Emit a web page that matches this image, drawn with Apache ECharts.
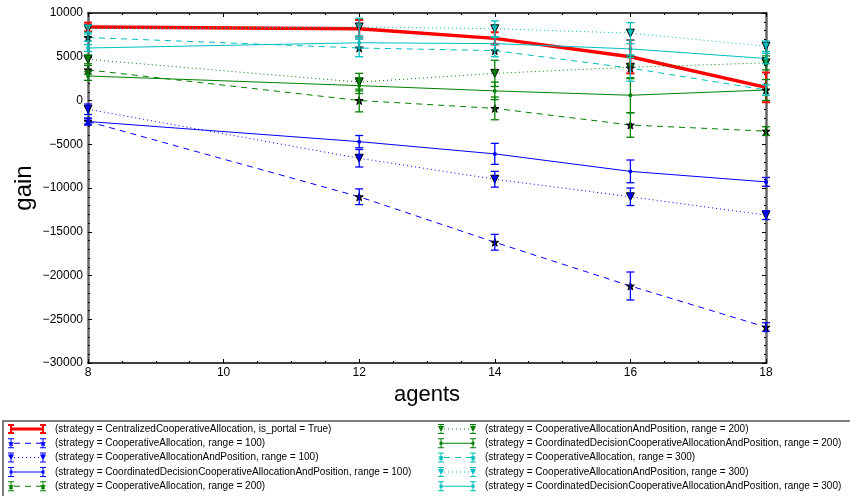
<!DOCTYPE html>
<html>
<head>
<meta charset="utf-8">
<script src="https://cdn.jsdelivr.net/npm/echarts@6/dist/echarts.min.js"></script>
<style>
  html, body { margin: 0; padding: 0; background: #fff; }
  #chart { width: 850px; height: 496px; }
</style>
</head>
<body>
<div id="chart"></div>
<script>
// agents on x axis
var agents = [8, 12, 14, 16, 18];

var names = [
    '(strategy = CentralizedCooperativeAllocation, is_portal = True)',
    '(strategy = CooperativeAllocation, range = 100)',
    '(strategy = CooperativeAllocationAndPosition, range = 100)',
    '(strategy = CoordinatedDecisionCooperativeAllocationAndPosition, range = 100)',
    '(strategy = CooperativeAllocation, range = 200)',
    '(strategy = CooperativeAllocationAndPosition, range = 200)',
    '(strategy = CoordinatedDecisionCooperativeAllocationAndPosition, range = 200)',
    '(strategy = CooperativeAllocation, range = 300)',
    '(strategy = CooperativeAllocationAndPosition, range = 300)',
    '(strategy = CoordinatedDecisionCooperativeAllocationAndPosition, range = 300)'
];

// mean gain per series
var centralized = [8400, 8200, 7100, 5000, 1500];
var coop100 = [-2400, -11000, -16200, -21200, -25900];
var coopPos100 = [-1000, -6600, -9000, -11000, -13100];
var coord100 = [-2400, -4700, -6100, -8100, -9300];
var coop200 = [3500, 0, -900, -2800, -3500];
var coopPos200 = [4700, 2100, 3100, 3800, 4300];
var coord200 = [2800, 1700, 1100, 600, 1200];
var coop300 = [7200, 6000, 5700, 3700, 1200];
var coopPos300 = [8200, 8400, 8200, 7700, 6200];
var coord300 = [6000, 6600, 6500, 5900, 4800];

// half-width of error bars
var errCentralized = [500, 1000, 700, 1900, 1700];
var errCoop100 = [300, 900, 900, 1600, 500];
var errCoopPos100 = [600, 1000, 900, 1000, 500];
var errCoord100 = [400, 700, 1200, 1300, 500];
var errCoop200 = [500, 1300, 1300, 1400, 500];
var errCoopPos200 = [500, 1000, 1500, 1300, 800];
var errCoord200 = [500, 900, 1000, 2000, 1200];
var errCoop300 = [400, 1000, 700, 1500, 600];
var errCoopPos300 = [400, 1000, 900, 1200, 600];
var errCoord300 = [400, 600, 700, 1000, 600];

var starPath = 'path://M50,0 L61,35 L98,35 L68,57 L79,91 L50,70 L21,91 L32,57 L2,35 L39,35 Z';

var RED = '#ff0000', BLUE = '#0000ff', GREEN = '#008000', CYAN = '#00bfbf';

var defs = [
    {vals: centralized, err: errCentralized, color: RED, type: 'solid', width: 3.5, symbol: 'none'},
    {vals: coop100, err: errCoop100, color: BLUE, type: [6, 5], width: 1, symbol: 'star'},
    {vals: coopPos100, err: errCoopPos100, color: BLUE, type: [1, 3], width: 1, symbol: 'tri'},
    {vals: coord100, err: errCoord100, color: BLUE, type: 'solid', width: 1, symbol: 'dot'},
    {vals: coop200, err: errCoop200, color: GREEN, type: [6, 5], width: 1, symbol: 'star'},
    {vals: coopPos200, err: errCoopPos200, color: GREEN, type: [1, 3], width: 1, symbol: 'tri'},
    {vals: coord200, err: errCoord200, color: GREEN, type: 'solid', width: 1, symbol: 'dot'},
    {vals: coop300, err: errCoop300, color: CYAN, type: [6, 5], width: 1, symbol: 'star'},
    {vals: coopPos300, err: errCoopPos300, color: CYAN, type: [1, 3], width: 1, symbol: 'tri'},
    {vals: coord300, err: errCoord300, color: CYAN, type: 'solid', width: 1, symbol: 'dot'}
];

// legend icon: error-bar caps at both ends, line pattern between, marker on caps
function rect(x, y, w, h) {
    return 'M' + x + ',' + y + 'h' + w + 'v' + h + 'h' + (-w) + 'Z';
}
function marker(kind, cx, cy) {
    if (kind === 'tri') return 'M' + (cx - 3) + ',' + (cy - 3) + 'L' + (cx + 3) + ',' + (cy - 3) + 'L' + cx + ',' + (cy + 3) + 'Z';
    if (kind === 'dot') return rect(cx - 1.5, cy - 1.5, 3, 3);
    if (kind === 'star') return 'M' + cx + ',' + (cy - 3) + 'L' + (cx + 1) + ',' + (cy - 1) + 'L' + (cx + 3) + ',' + (cy - 1) +
        'L' + (cx + 1.5) + ',' + (cy + 0.7) + 'L' + (cx + 2) + ',' + (cy + 3) + 'L' + cx + ',' + (cy + 1.6) +
        'L' + (cx - 2) + ',' + (cy + 3) + 'L' + (cx - 1.5) + ',' + (cy + 0.7) + 'L' + (cx - 3) + ',' + (cy - 1) +
        'L' + (cx - 1) + ',' + (cy - 1) + 'Z';
    return '';
}
function legendIcon(d) {
    var t = d.width > 1 ? 2 : 1;
    var lw = d.width > 1 ? 3 : 1;
    var p = '';
    [3, 35].forEach(function (cx) {
        p += rect(cx - t / 2, 0, t, 10);
        p += rect(cx - 3, 0, 6, t);
        p += rect(cx - 3, 10 - t, 6, t);
        p += marker(d.symbol, cx, 5);
    });
    var y = 5 - lw / 2;
    if (d.type === 'solid') {
        p += rect(3, y, 32, lw);
    } else {
        var seg = d.type[0], gap = d.type[1];
        for (var x = 6; x < 33; x += seg + gap) p += rect(x, y, Math.min(seg, 33 - x), lw);
    }
    return 'path://' + p;
}

var chart = echarts.init(document.getElementById('chart'));

var series = [];
defs.forEach(function (d, i) {
    var sym = 'none', size = 0, rot = 0, fill = d.color;
    if (d.symbol === 'star') { sym = starPath; size = 8; fill = '#111'; }
    if (d.symbol === 'tri') { sym = 'triangle'; size = 8; rot = 180; }
    if (d.symbol === 'dot') { sym = 'circle'; size = 4; }
    series.push({
        name: names[i],
        type: 'line',
        data: agents.map(function (a, k) { return [a, d.vals[k]]; }),
        symbol: sym,
        symbolSize: size,
        symbolRotate: rot,
        showSymbol: sym !== 'none',
        itemStyle: {color: fill, borderColor: d.symbol === 'dot' ? d.color : '#000', borderWidth: d.symbol === 'dot' ? 0 : 1},
        lineStyle: {color: d.color, width: d.width, type: d.type},
        z: 3,
        animation: false
    });
});
defs.forEach(function (d, i) {
    series.push({
        name: names[i],
        type: 'custom',
        data: agents.map(function (a, k) { return [a, d.vals[k] - d.err[k], d.vals[k] + d.err[k]]; }),
        renderItem: function (params, api) {
            var lo = api.coord([api.value(0), api.value(1)]);
            var hi = api.coord([api.value(0), api.value(2)]);
            var w = 4;
            var st = {stroke: d.color, lineWidth: d.width > 1 ? 2 : 1.3};
            return {
                type: 'group',
                children: [
                    {type: 'line', shape: {x1: lo[0], y1: lo[1], x2: hi[0], y2: hi[1]}, style: st},
                    {type: 'line', shape: {x1: lo[0] - w, y1: lo[1], x2: lo[0] + w, y2: lo[1]}, style: st},
                    {type: 'line', shape: {x1: hi[0] - w, y1: hi[1], x2: hi[0] + w, y2: hi[1]}, style: st}
                ]
            };
        },
        z: 4,
        animation: false
    });
});

var legendItems = names.map(function (n, i) {
    return {name: n, icon: legendIcon(defs[i]), itemStyle: {color: defs[i].color, borderWidth: 0}};
});

var legendCommon = {
    orient: 'vertical',
    itemWidth: 38,
    itemHeight: 10,
    itemGap: 4.3,
    textStyle: {fontFamily: 'Liberation Sans', fontSize: 10, color: '#000', padding: [0, 0, 0, 4]},
    padding: 0
};

function plainLabel(v) {
    return String(v).replace('-', '\u2212');
}

var option = {
    backgroundColor: '#fff',
    textStyle: {fontFamily: 'Liberation Sans'},
    grid: {left: 88, right: 84, top: 13, bottom: 133},
    xAxis: [{
        type: 'value', min: 8, max: 18, interval: 2,
        name: 'agents', nameLocation: 'middle', nameGap: 21,
        nameTextStyle: {fontSize: 22, color: '#000', fontFamily: 'Liberation Sans'},
        axisLine: {onZero: false, lineStyle: {color: '#000', width: 1.5}},
        axisTick: {inside: true, length: 4, lineStyle: {color: '#000'}},
        minorTick: {show: true, splitNumber: 4, length: 2, lineStyle: {color: '#000'}},
        axisLabel: {color: '#000', fontSize: 12, margin: 4},
        splitLine: {show: false}
    }, {
        type: 'value', min: 8, max: 18, interval: 2, position: 'top',
        axisLine: {onZero: false, lineStyle: {color: '#000', width: 1.5}},
        axisTick: {inside: true, length: 4, lineStyle: {color: '#000'}},
        minorTick: {show: true, splitNumber: 4, length: 2, lineStyle: {color: '#000'}},
        axisLabel: {show: false},
        splitLine: {show: false}
    }],
    yAxis: [{
        type: 'value', min: -30000, max: 10000, interval: 5000,
        name: 'gain', nameLocation: 'middle', nameGap: 52, nameMoveOverlap: false,
        nameTextStyle: {fontSize: 24, color: '#000', fontFamily: 'Liberation Sans'},
        axisLine: {onZero: false, lineStyle: {color: '#666', width: 2.5}},
        axisTick: {inside: true, length: 4, lineStyle: {color: '#000'}},
        minorTick: {show: true, splitNumber: 5, length: 2, lineStyle: {color: '#000'}},
        axisLabel: {color: '#000', fontSize: 12, margin: 5, formatter: plainLabel},
        splitLine: {show: false}
    }, {
        type: 'value', min: -30000, max: 10000, interval: 5000, position: 'right',
        axisLine: {show: true, onZero: false, lineStyle: {color: '#666', width: 2.5}},
        axisTick: {inside: true, length: 4, lineStyle: {color: '#000'}},
        minorTick: {show: true, splitNumber: 5, length: 2, lineStyle: {color: '#000'}},
        axisLabel: {show: false},
        splitLine: {show: false}
    }],
    legend: [
        Object.assign({left: 8, top: 424, data: legendItems.slice(0, 5)}, legendCommon),
        Object.assign({left: 438, top: 424, data: legendItems.slice(5)}, legendCommon)
    ],
    graphic: [{
        type: 'polyline',
        shape: {points: [[3, 496], [3, 421], [850, 421]]},
        style: {stroke: '#555', fill: null, lineWidth: 1.5},
        silent: true
    }],
    series: series
};

chart.setOption(option);
</script>
</body>
</html>
